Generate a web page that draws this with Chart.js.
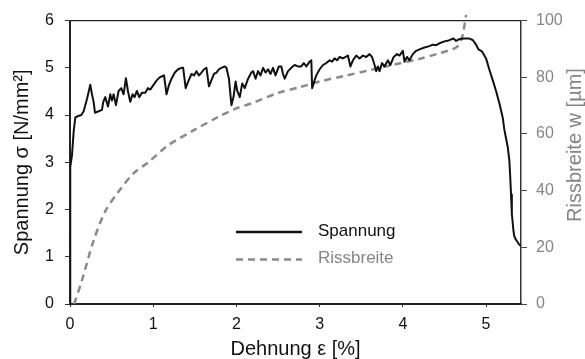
<!DOCTYPE html>
<html>
<head>
<meta charset="utf-8">
<script src="https://cdn.jsdelivr.net/npm/chart.js@4.4.1/dist/chart.umd.min.js"></script>
<style>
html,body{margin:0;padding:0;background:#fff;}
canvas{display:block;}
</style>
</head>
<body>
<canvas id="c" width="585" height="359"></canvas>
<script>
// ---- data ----
const strain = [0,0.003,0.024,0.044,0.064,0.10,0.136,0.164,0.204,0.244,0.264,0.284,0.30,0.344,0.384,0.40,0.424,0.456,0.484,0.504,0.524,0.552,0.584,0.616,0.644,0.672,0.696,0.724,0.752,0.776,0.804,0.832,0.864,0.904,0.936,0.964,1.004,1.044,1.08,1.13,1.16,1.19,1.22,1.26,1.30,1.34,1.36,1.39,1.42,1.46,1.49,1.52,1.55,1.58,1.61,1.64,1.67,1.70,1.73,1.76,1.79,1.82,1.86,1.88,1.91,1.94,1.965,1.99,2.01,2.04,2.07,2.10,2.14,2.18,2.20,2.23,2.26,2.29,2.32,2.35,2.38,2.41,2.44,2.47,2.51,2.54,2.56,2.58,2.62,2.66,2.70,2.74,2.78,2.81,2.84,2.88,2.90,2.91,2.94,2.96,3.00,3.04,3.08,3.12,3.15,3.18,3.21,3.24,3.28,3.34,3.37,3.40,3.44,3.48,3.52,3.56,3.60,3.63,3.66,3.68,3.70,3.72,3.75,3.78,3.82,3.85,3.89,3.93,3.96,4.00,4.02,4.05,4.08,4.12,4.16,4.20,4.26,4.32,4.36,4.40,4.44,4.50,4.55,4.61,4.64,4.68,4.74,4.80,4.84,4.88,4.91,4.95,5.00,5.04,5.08,5.12,5.16,5.20,5.22,5.26,5.28,5.29,5.30,5.31,5.33,5.34,5.36,5.39,5.41];
const stress = [0,2.9,3.15,3.65,3.95,3.98,4.0,4.08,4.34,4.64,4.44,4.28,4.05,4.08,4.11,4.28,4.38,4.18,4.44,4.31,4.44,4.21,4.51,4.57,4.44,4.78,4.51,4.28,4.44,4.38,4.51,4.38,4.47,4.47,4.57,4.54,4.64,4.74,4.80,4.84,4.44,4.64,4.77,4.90,4.97,5.0,5.0,4.57,4.71,4.87,4.84,4.93,4.84,4.90,4.97,5.0,4.61,4.74,4.87,4.90,4.97,5.0,5.03,5.0,4.77,4.21,4.38,4.71,4.51,4.38,4.67,4.57,4.77,4.90,4.93,4.77,4.93,4.84,5.0,4.90,4.97,4.87,5.0,4.84,5.03,5.03,4.87,4.77,4.93,5.0,5.06,5.03,5.03,5.10,5.03,5.13,5.16,4.57,4.74,4.84,4.97,5.06,5.10,5.16,5.13,5.20,5.16,5.23,5.20,5.26,5.03,5.16,5.26,5.20,5.26,5.23,5.29,5.23,5.06,4.93,5.03,4.93,5.10,5.03,5.16,5.06,5.23,5.29,5.26,5.36,5.13,5.23,5.16,5.29,5.36,5.39,5.43,5.46,5.49,5.48,5.52,5.56,5.58,5.62,5.57,5.61,5.62,5.62,5.59,5.49,5.39,5.35,5.20,4.96,4.74,4.51,4.25,3.95,3.69,3.33,3.04,2.71,2.32,1.91,1.54,1.43,1.36,1.28,1.24];
const strainW = [0.05,0.14,0.28,0.42,0.58,0.76,0.94,1.18,1.5,1.78,2.0,2.2,2.5,2.76,3.0,3.3,3.6,3.9,4.2,4.44,4.64,4.70,4.73,4.76];
const crackW  = [0,8,22,32.5,39.5,46,50,56,61.5,66,69,71,74.5,76.5,78.5,80.5,82.5,84.5,86.5,88.5,90.5,93,96.5,102];
const xTicks = [0,1,2,3,4,5];
const yTicks = [0,1,2,3,4,5,6];
const y1Ticks = [0,20,40,60,80,100];
const seriesLabels = ['Spannung','Rissbreite'];
const xTitle = 'Dehnung ε [%]';
const yTitle = 'Spannung σ [N/mm²]';
const y1Title = 'Rissbreite w [µm]';

const FAM = '"Liberation Sans", Arial, sans-serif';
const BLACK = '#111111';
const GREY = '#8a8a8a';
const GREYTXT = '#858585';

const framePlugin = {
  id: 'frame',
  afterDatasetsDraw(chart) {
    const {ctx, chartArea: a} = chart;
    ctx.save();
    // top border
    ctx.strokeStyle = '#222';
    ctx.lineWidth = 1.3;
    ctx.beginPath();
    ctx.moveTo(a.left, a.top);
    ctx.lineTo(a.right, a.top);
    ctx.stroke();
    // legend
    const ds = chart.data.datasets;
    const lx0 = a.left + (a.right - a.left) * 0.368;
    const lx1 = lx0 + 66;
    const tx = lx1 + 16;
    const rows = [a.top + (a.bottom - a.top) * 0.746, a.top + (a.bottom - a.top) * 0.843];
    ds.forEach((d, i) => {
      ctx.strokeStyle = d.borderColor;
      ctx.lineWidth = 2.5;
      ctx.setLineDash(d.borderDash || []);
      ctx.beginPath();
      ctx.moveTo(lx0, rows[i]);
      ctx.lineTo(lx1, rows[i]);
      ctx.stroke();
      ctx.setLineDash([]);
      ctx.fillStyle = i === 0 ? BLACK : GREYTXT;
      ctx.font = '17px ' + FAM;
      ctx.textAlign = 'left';
      ctx.textBaseline = 'middle';
      ctx.fillText(d.label, tx, rows[i] - 1);
    });
    // right axis title (reads bottom to top)
    ctx.translate(575, 145);
    ctx.rotate(-Math.PI / 2);
    ctx.fillStyle = GREYTXT;
    ctx.font = '20px ' + FAM;
    ctx.textAlign = 'center';
    ctx.textBaseline = 'middle';
    ctx.fillText(y1Title, 0, 0);
    ctx.restore();
  }
};

new Chart(document.getElementById('c').getContext('2d'), {
  type: 'line',
  data: {
    datasets: [
      {
        label: seriesLabels[0],
        data: strain.map((x, i) => ({x: x, y: stress[i]})),
        yAxisID: 'y',
        borderColor: BLACK,
        borderWidth: 2,
        pointRadius: 0,
        tension: 0,
        borderJoinStyle: 'round',
        borderCapStyle: 'round'
      },
      {
        label: seriesLabels[1],
        data: strainW.map((x, i) => ({x: x, y: crackW[i]})),
        yAxisID: 'y1',
        borderColor: GREY,
        borderWidth: 2.5,
        borderDash: [7, 5],
        pointRadius: 0,
        tension: 0.3,
        clip: false
      }
    ]
  },
  options: {
    responsive: false,
    animation: false,
    devicePixelRatio: 1,
    layout: {padding: {top: 17, left: 0, right: 0, bottom: 0}},
    plugins: {legend: {display: false}, tooltip: {enabled: false}},
    scales: {
      x: {
        type: 'linear', min: 0, max: 5.42,
        afterBuildTicks: s => { s.ticks = xTicks.map(v => ({value: v})); },
        afterFit: s => { s.height = 55; },
        grid: {display: true, drawOnChartArea: false, drawTicks: true, tickLength: 3, color: '#333'},
        border: {display: true, color: '#222', width: 2},
        ticks: {color: BLACK, font: {size: 16, family: FAM}, padding: 8, maxRotation: 0},
        title: {display: true, text: xTitle, color: BLACK, font: {size: 20, family: FAM, lineHeight: 1}, padding: {top: 0, bottom: 0}}
      },
      y: {
        position: 'left', min: 0, max: 6,
        afterBuildTicks: s => { s.ticks = yTicks.map(v => ({value: v})); },
        afterFit: s => { s.width = 70; },
        grid: {display: true, drawOnChartArea: false, drawTicks: true, tickLength: 5, color: '#333'},
        border: {display: true, color: '#222', width: 2},
        ticks: {color: BLACK, font: {size: 16, family: FAM}, padding: 11},
        title: {display: true, text: yTitle, color: BLACK, font: {size: 20, family: FAM, lineHeight: 1}, padding: {top: 12, bottom: 0}}
      },
      y1: {
        position: 'right', min: 0, max: 100,
        afterBuildTicks: s => { s.ticks = y1Ticks.map(v => ({value: v})); },
        afterFit: s => { s.width = 64; },
        grid: {display: true, drawOnChartArea: false, drawTicks: true, tickLength: 6, color: '#444'},
        border: {display: true, color: '#333', width: 1.5},
        ticks: {color: GREYTXT, font: {size: 16, family: FAM}, padding: 9},
        title: {display: false}
      }
    }
  },
  plugins: [framePlugin]
});
</script>
</body>
</html>
